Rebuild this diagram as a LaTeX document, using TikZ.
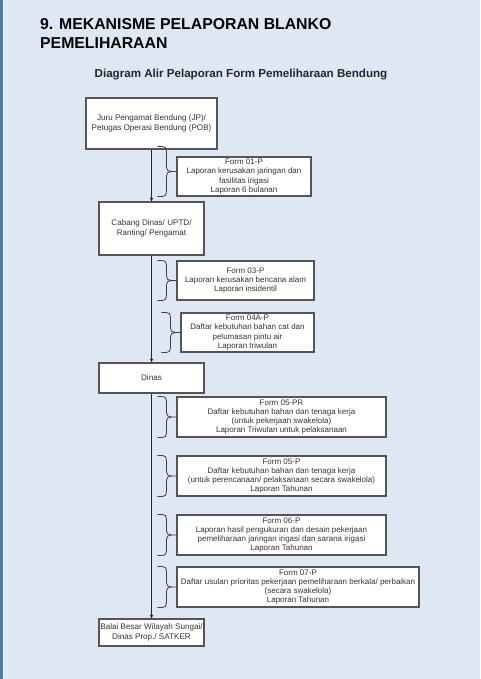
\documentclass[tikz,border=0pt]{standalone}
\usepackage{fontspec}
\setmainfont{Liberation Sans}
\usetikzlibrary{arrows.meta,calc}
\definecolor{bgblue}{HTML}{DDE8F4}
\definecolor{stripblue}{HTML}{4A7BB0}
\definecolor{boxline}{HTML}{555555}
\definecolor{txt}{HTML}{333333}
\tikzset{
  mainbox/.style={draw=boxline, line width=1.1pt, fill=white, text=txt, align=center, inner sep=0pt,
    font=\fontsize{8.1}{9.4}\selectfont},
  formbox/.style={draw=boxline, line width=1.1pt, fill=white, text=txt, align=center, inner sep=0pt,
    font=\fontsize{8}{9.3}\selectfont},
  flow/.style={draw=black!85, line width=0.8pt, -{Stealth[length=4pt,width=3.5pt]}},
  brc/.style={draw=black!75, line width=0.8pt},
}
% #1 node name, #2 extra height above the node top
\newcommand\drawbrc[2]{%
 \draw[brc] let \p1=(#1.north west), \p2=(#1.south west), \n1={(\y1+#2+\y2)/2} in
   ({\x1-19pt},{\y1+#2}) .. controls ({\x1-10pt},{\y1+#2}) .. ({\x1-10pt},{\y1+#2-9pt})
   -- ({\x1-10pt},{\n1*1pt+9pt}) .. controls ({\x1-10pt},{\n1*1pt}) .. ({\x1},{\n1*1pt})
   .. controls ({\x1-10pt},{\n1*1pt}) .. ({\x1-10pt},{\n1*1pt-9pt})
   -- ({\x1-10pt},{\y2+9pt}) .. controls ({\x1-10pt},{\y2}) .. ({\x1-19pt},{\y2});}
\begin{document}
\begin{tikzpicture}[x=1pt,y=-1pt]
\useasboundingbox (0,0) rectangle (480,679);
\fill[bgblue] (0,0) rectangle (480,679);
\fill[stripblue] (0,0) rectangle (2.5,679);
\fill[white!70!bgblue] (2.5,0) rectangle (4,679);

\node[anchor=base west, font=\bfseries\fontsize{15.8}{19}\selectfont, inner sep=0] (t1) at (40,30) {9. MEKANISME PELAPORAN BLANKO};
\node[anchor=base west, font=\bfseries\fontsize{15.8}{19}\selectfont, inner sep=0] (t2) at (40,49) {PEMELIHARAAN};
\node[anchor=base, font=\bfseries\fontsize{11.6}{13}\selectfont, text=black!85, inner sep=0] (sub) at (241,78) {Diagram Alir Pelaporan Form Pemeliharaan Bendung};

% main column
\node[mainbox, minimum width=131pt, minimum height=51pt] (jp) at (151.5,123.5) {Juru Pengamat Bendung (JP)/\\Petugas Operasi Bendung (POB)};
\node[mainbox, minimum width=105pt, minimum height=53pt] (cabang) at (151.5,228.5) {Cabang Dinas/ UPTD/\\Ranting/ Pengamat};
\node[mainbox, minimum width=105pt, minimum height=30pt] (dinas) at (151.5,378) {Dinas};
\node[mainbox, minimum width=105pt, minimum height=27pt] (balai) at (151.5,632.5) {Balai Besar Wilayah Sungai/\\Dinas Prop./ SATKER};

% form boxes
\node[formbox, minimum width=134pt, minimum height=39pt] (f01) at (244,176.5) {Form 01-P\\Laporan kerusakan jaringan dan\\fasilitas irigasi\\Laporan 6 bulanan};
\node[formbox, minimum width=137pt, minimum height=39pt] (f03) at (245.5,280.5) {Form 03-P\\Laporan kerusakan bencana alam\\Laporan insidentil};
\node[formbox, minimum width=133pt, minimum height=39pt] (f04) at (247.5,332.5) {Form 04A-P\\Daftar kebutuhan bahan cat dan\\pelumasan pintu air\\Laporan triwulan};
\node[formbox, minimum width=209pt, minimum height=40pt] (f05r) at (281.5,417) {Form 05-PR\\Daftar kebutuhan bahan dan tenaga kerja\\(untuk pekerjaan swakelola)\\Laporan Triwulan untuk pelaksanaan};
\node[formbox, minimum width=209pt, minimum height=40pt] (f05) at (281.5,476) {Form 05-P\\Daftar kebutuhan bahan dan tenaga kerja\\(untuk perencanaan/ pelaksanaan secara swakelola)\\Laporan Tahunan};
\node[formbox, minimum width=209pt, minimum height=40pt] (f06) at (281.5,535) {Form 06-P\\Laporan hasil pengukuran dan desain pekerjaan\\pemeliharaan jaringan irigasi dan sarana irigasi\\Laporan Tahunan};
\node[formbox, minimum width=242pt, minimum height=40pt] (f07) at (298,587) {Form 07-P\\Daftar usulan prioritas pekerjaan pemeliharaan berkala/ perbaikan\\(secara swakelola)\\Laporan Tahunan};

% flow
\draw[flow] (jp.south) -- (cabang.north);
\draw[flow] (cabang.south) -- (dinas.north);
\draw[flow] (dinas.south) -- (balai.north);

% braces
\drawbrc{f01}{10pt}
\foreach \f in {f03,f04,f05r,f05,f06,f07}{\drawbrc{\f}{0pt}}
\end{tikzpicture}
\end{document}
